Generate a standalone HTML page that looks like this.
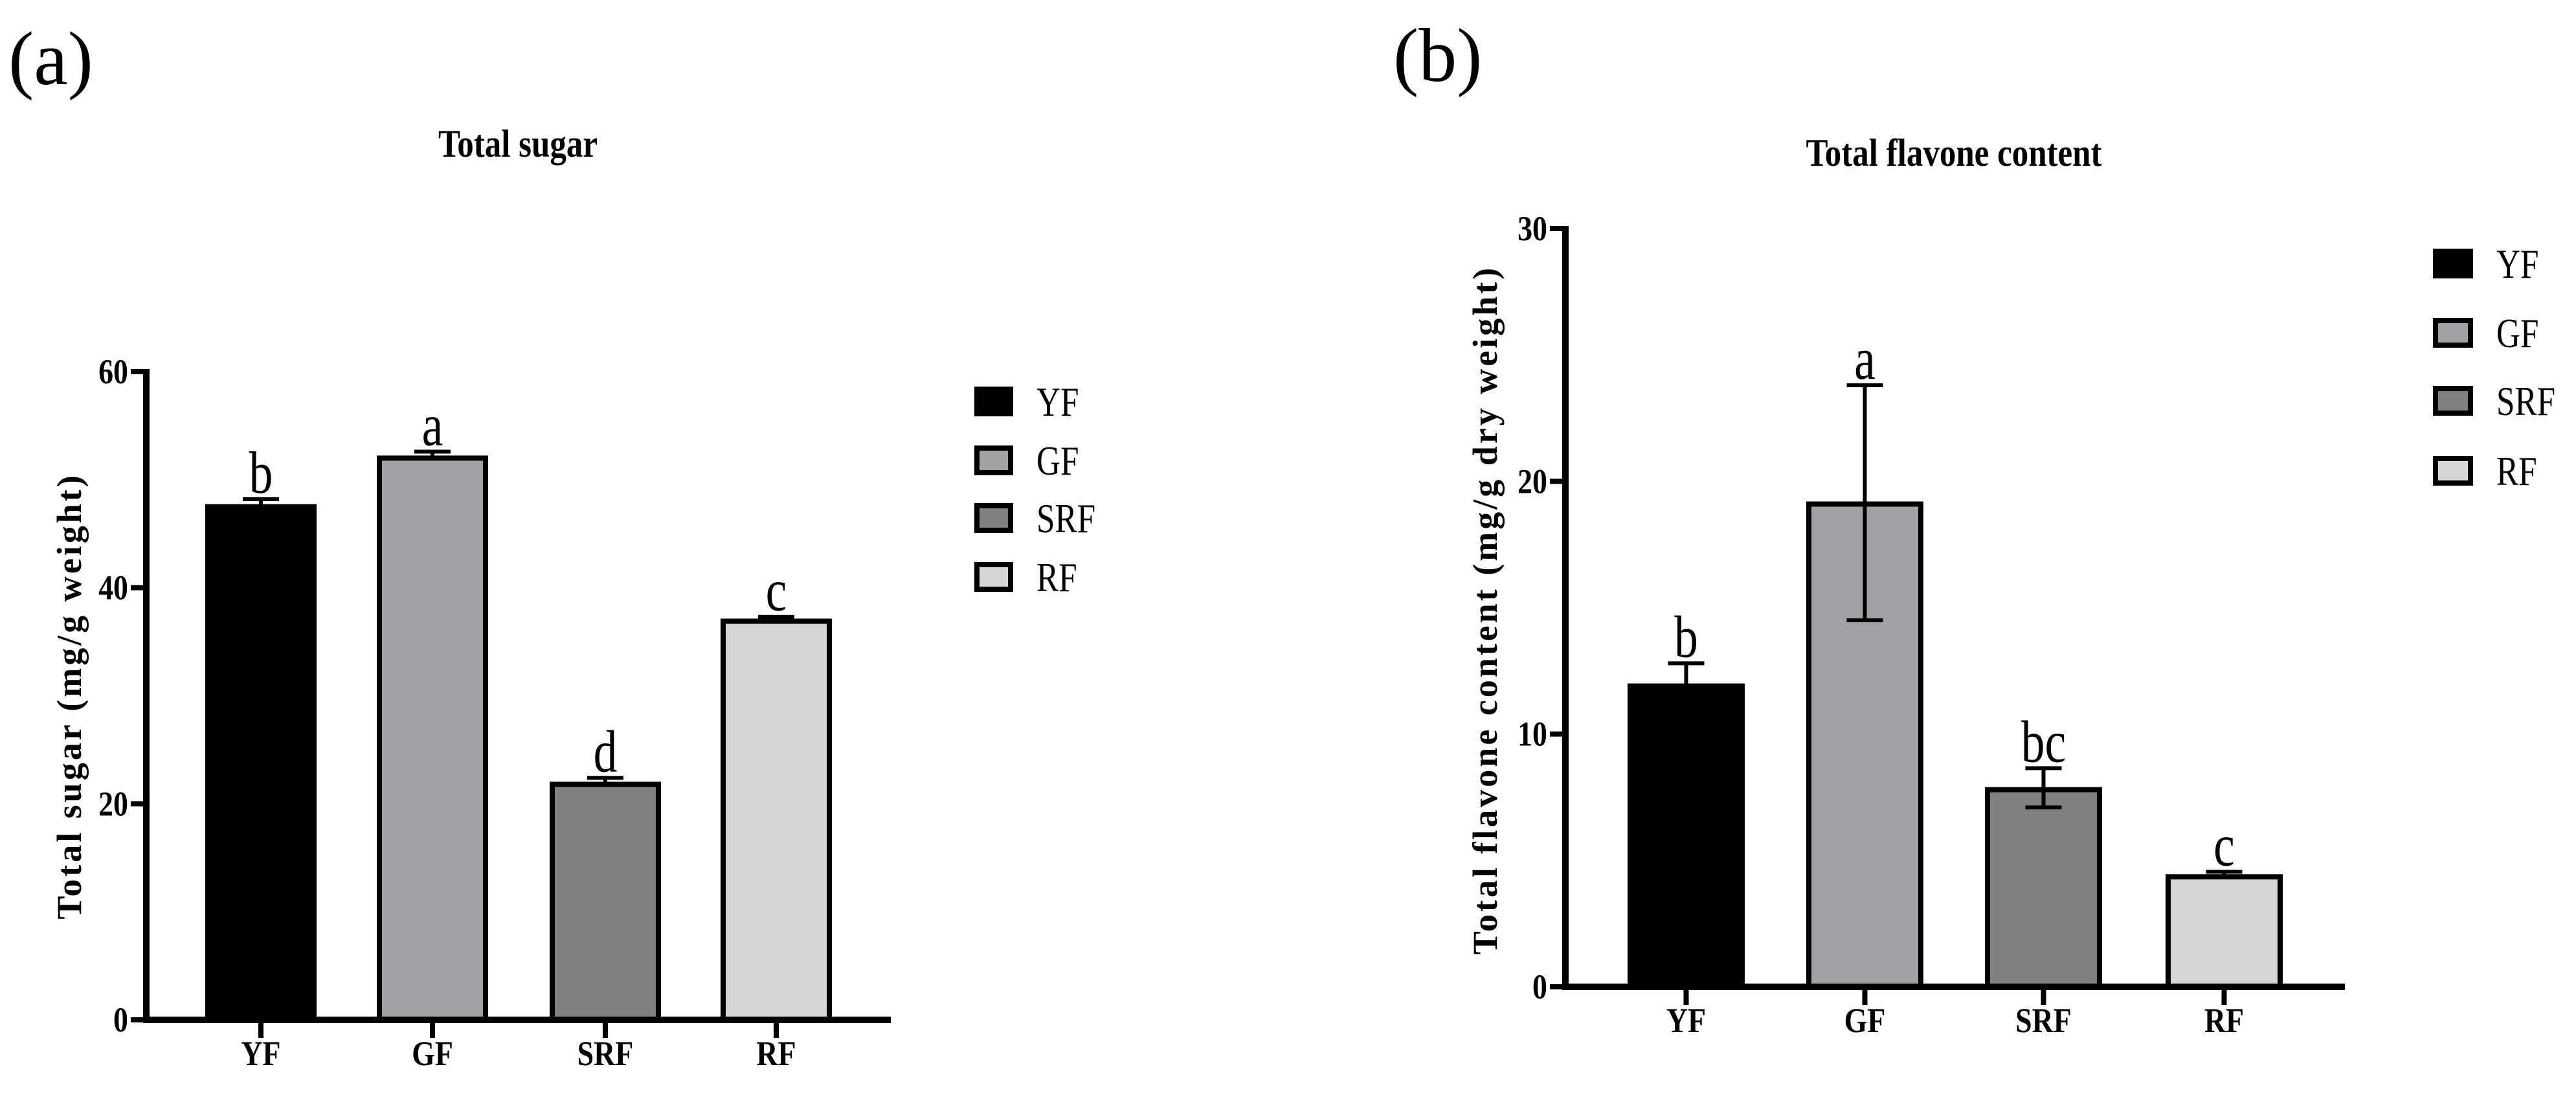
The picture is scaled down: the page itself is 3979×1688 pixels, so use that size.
<!DOCTYPE html>
<html><head><meta charset="utf-8"><style>
html,body{margin:0;padding:0;background:#fff;}
svg{display:block;}
svg text{font-family:"Liberation Serif","Times New Roman",serif;}
</style></head><body>
<svg id="fig" width="3979" height="1688" viewBox="0 0 3979 1688" font-family="'Liberation Serif', serif">
<text x="13" y="130" font-size="118" font-family="Liberation Serif, serif">(a)</text>
<text x="2152" y="125" font-size="118" font-family="Liberation Serif, serif">(b)</text>
</svg>
<script>
const categories = ["YF","GF","SRF","RF"];
const colors = ["#000000","#a1a1a5","#808080","#d6d6d6"];
const sugarValues = [47.5, 52.0, 21.8, 36.9];
const sugarErrUp = [0.7, 0.6, 0.6, 0.4];
const sugarErrDown = [0, 0, 0, 0];
const sugarLetters = ["b","a","d","c"];
const sugarTicks = [0, 20, 40, 60];
const flavValues = [11.9, 19.1, 7.8, 4.35];
const flavErrUp = [0.9, 4.7, 0.85, 0.2];
const flavErrDown = [0, 4.6, 0.7, 0];
const flavLetters = ["b","a","bc","c"];
const flavTicks = [0, 10, 20, 30];

const NS = "http://www.w3.org/2000/svg";
const svg = document.getElementById("fig");
const FF = "Liberation Serif, serif";
function mk(tag, attrs, parent){const e=document.createElementNS(NS,tag);for(const k in attrs)e.setAttribute(k,attrs[k]);if(tag==="text")e.setAttribute("font-family",FF);(parent||svg).appendChild(e);return e;}
function sx(x,yv,s){return `translate(${x},${yv}) scale(${s},1) translate(${-x},${-yv})`;}

function panel(p){
  const g = mk("g",{});
  
  
  const ymax = p.ticks[p.ticks.length-1];
  const y = v => p.y0 - (v/ymax)*(p.y0-p.yTop);
  const t = mk("text",{x:p.titleX,y:p.titleY,"font-size":60,"font-weight":"bold","text-anchor":"middle",transform:sx(p.titleX,p.titleY,0.85)},g);
  t.textContent = p.title;
  
  
  const yt = mk("text",{x:0,y:0,"font-size":54,"font-weight":"bold","text-anchor":"middle","letter-spacing":p.ls,transform:`translate(${p.ytX},${p.ytY}) rotate(-90)`},g);
  yt.textContent = p.ytitle;
  
  
  categories.forEach((c,i)=>{
    const x1 = p.barX[i], w = p.barW;
    const top = y(p.values[i]);
    const r = mk("rect",{x:x1+4,y:top,width:w-8,height:p.y0-top,fill:colors[i],stroke:"#000","stroke-width":8},g);
    
    
    const cx = x1+w/2;
    const eu = y(p.values[i]+p.errUp[i]);
    const ed = y(p.values[i]-p.errDown[i]);
    const eb = mk("path",{d:`M${cx},${ed}V${eu}M${cx-28},${eu}H${cx+28}`+(p.errDown[i]>0?`M${cx-28},${ed}H${cx+28}`:""),stroke:"#000","stroke-width":6,fill:"none"},g);
    
    
    const lt = mk("text",{x:cx,y:eu-10,"font-size":92,"text-anchor":"middle",transform:sx(cx,eu-10,0.8)},g);
    lt.textContent = p.letters[i];
    
    
    mk("line",{x1:cx,x2:cx,y1:p.y0,y2:p.y0+28,stroke:"#000","stroke-width":8},g);
    const xl = mk("text",{x:cx,y:p.y0+70,"font-size":54,"font-weight":"bold","text-anchor":"middle",transform:sx(cx,p.y0+70,0.85)},g);
    xl.textContent = c;
    
    
    const ly = p.legY[i];
    const ls = mk("rect",{x:p.legX+4,y:ly-19,width:p.legW-8,height:38,fill:colors[i],stroke:"#000","stroke-width":8},g);
    
    
    const tx = p.legX+p.legW+36;
    const lx = mk("text",{x:tx,y:ly+22,"font-size":64,transform:sx(tx,ly+22,0.8)},g);
    lx.textContent = c;
    
    
  });
  const ax = mk("path",{d:`M${p.ax},${p.yTop-4}V${p.y0}H${p.axEnd}`,stroke:"#000","stroke-width":10,fill:"none"},g);
  
  
  p.ticks.forEach(v=>{
    const yy = y(v);
    mk("line",{x1:p.ax-24,x2:p.ax,y1:yy,y2:yy,stroke:"#000","stroke-width":8},g);
    const tl = mk("text",{x:p.ax-28,y:yy+18,"font-size":54,"font-weight":"bold","text-anchor":"end",transform:sx(p.ax-28,yy+18,0.85)},g);
    tl.textContent = v;
    
    
  });
}

panel({id:"sugar",title:"Total sugar",titleX:800,titleY:242,ytitle:"Total sugar (mg/g weight)",ls:4,ytX:125,ytY:1075,
  y0:1575,yTop:574,ticks:sugarTicks,values:sugarValues,errUp:sugarErrUp,errDown:sugarErrDown,letters:sugarLetters,
  barX:[317,582,849,1113],barW:172,ax:226,axEnd:1376,legX:1505,legW:60,legY:[620,711,800,891]});
panel({id:"flavone",title:"Total flavone content",titleX:3018,titleY:256,ytitle:"Total flavone content (mg/g dry weight)",ls:4,ytX:2312,ytY:942,
  y0:1524,yTop:353,ticks:flavTicks,values:flavValues,errUp:flavErrUp,errDown:flavErrDown,letters:flavLetters,
  barX:[2514,2790,3066,3345],barW:181,ax:2418,axEnd:3622,legX:3758,legW:62,legY:[407,514,619,727]});
</script>
</body></html>
